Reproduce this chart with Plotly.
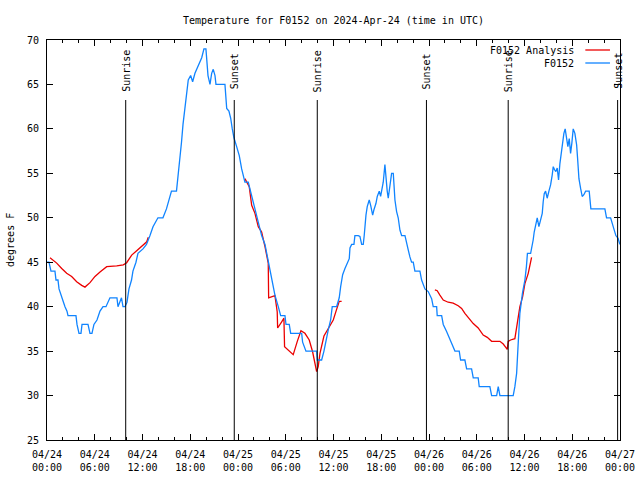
import plotly.graph_objects as go
import pandas as pd

BASE = pd.Timestamp("2024-04-24 00:00")

title_text = "Temperature for F0152 on 2024-Apr-24 (time in UTC)"
y_label = "degrees F"

# F0152 observations: (hours since 04/24 00:00 UTC, temperature F)
obs = [
    (0, 45), (0.25, 45), (0.50, 44), (1.00, 44), (1.13, 43), (1.38, 43), (1.51, 42), (1.82, 41),
    (2.07, 40.5), (2.26, 40), (2.51, 39.5), (2.64, 39), (3.64, 39), (3.77, 38), (4.02, 37), (4.27, 37),
    (4.40, 38), (5.15, 38), (5.40, 37), (5.65, 37), (5.90, 38), (6.28, 38.5), (6.66, 39.5), (7.04, 40),
    (7.41, 40), (7.91, 41), (8.79, 41), (8.92, 40), (9.17, 40.5), (9.36, 41), (9.55, 40), (9.80, 40),
    (10.05, 40.5), (10.30, 42), (10.62, 43), (10.80, 44), (11.18, 45), (11.43, 46), (12.06, 46.5),
    (12.50, 47), (12.94, 48), (13.32, 49), (13.94, 50), (14.57, 50), (15.01, 51), (15.33, 52), (15.64, 53),
    (16.27, 53), (16.46, 54.5), (16.71, 56.5), (16.90, 58.5), (17.09, 60.5), (17.34, 62.5), (17.53, 64),
    (17.75, 65.5), (18.05, 66), (18.30, 65.3), (18.59, 66.25), (18.88, 66.8), (19.13, 67.4), (19.44, 68),
    (19.72, 69), (19.97, 69), (20.23, 66), (20.48, 65), (20.69, 66.25), (20.89, 66.7), (21.11, 66),
    (21.23, 65), (22.36, 65), (22.58, 62.3), (22.86, 62), (23.08, 61.2), (23.28, 60), (23.49, 59),
    (23.83, 58), (24.16, 57), (24.46, 55.5), (24.87, 54), (25.29, 54), (25.72, 52.5), (26.13, 51),
    (26.55, 49.75), (26.97, 48), (27.39, 47), (27.80, 45), (28.23, 43), (28.64, 41.3), (29.06, 40),
    (29.36, 39), (29.90, 39), (30.03, 38), (30.44, 38), (30.62, 37), (32.00, 37), (32.12, 36), (32.54, 35),
    (33.88, 35), (33.96, 34), (34.51, 34), (34.80, 35), (35.05, 36.25), (35.34, 37.4), (35.64, 38.5),
    (35.84, 40), (36.39, 40), (36.72, 41), (36.90, 42.25), (37.15, 43.6), (37.44, 44.3), (37.73, 45),
    (37.98, 45.4), (38.07, 46.6), (38.28, 47), (38.57, 47), (38.69, 48), (39.11, 48), (39.32, 47.9),
    (39.54, 47), (39.74, 47), (39.86, 48), (39.95, 49.4), (40.08, 50.3), (40.24, 51.25), (40.49, 52),
    (40.67, 51.4), (40.92, 50.3), (41.08, 50.9), (41.33, 51.6), (41.50, 52.4), (41.75, 53), (41.92, 52.4),
    (42.05, 53), (42.25, 54), (42.46, 56), (42.59, 54), (42.75, 53), (42.88, 52.2), (43.00, 53),
    (43.18, 54), (43.30, 55), (43.51, 55), (43.72, 52), (43.93, 50.7), (44.13, 50), (44.35, 48.6),
    (44.56, 48), (44.98, 48), (45.19, 47.3), (45.39, 46.4), (45.60, 45.6), (45.81, 45), (46.02, 45),
    (46.23, 44), (46.86, 44), (47.07, 43), (47.49, 42), (47.90, 41.7), (48.33, 40.9), (48.53, 40),
    (48.96, 40), (49.03, 39), (49.59, 39), (49.79, 38), (50.21, 37.2), (50.63, 36.25), (50.97, 35.7),
    (51.26, 35), (51.80, 35), (51.97, 34), (52.51, 34), (52.73, 33), (53.35, 33), (53.56, 32),
    (54.18, 32), (54.31, 31), (55.65, 31), (55.87, 30), (56.50, 30), (56.70, 31), (56.91, 30),
    (58.58, 30), (58.79, 31), (59.01, 32.5), (59.21, 35.9), (59.42, 39.25), (59.74, 41.5), (60.05, 43),
    (60.24, 44.5), (60.37, 46), (60.77, 46), (60.89, 46.45), (61.09, 47.5), (61.22, 48.4), (61.39, 49.3),
    (61.60, 50), (61.81, 49), (62.02, 49.7), (62.23, 50.5), (62.35, 51.8), (62.48, 52.7), (62.65, 53),
    (62.85, 52.2), (63.07, 53), (63.28, 53.7), (63.48, 54.8), (63.61, 55.75), (63.78, 55.4), (63.94, 55.2),
    (64.11, 55.6), (64.28, 54.25), (64.45, 56.1), (64.66, 57.4), (64.79, 58.75), (64.95, 59.5),
    (65.11, 60), (65.29, 58.75), (65.45, 58), (65.62, 58.9), (65.79, 57.25), (65.95, 58.4), (66.12, 60),
    (66.33, 59.5), (66.55, 58.2), (66.67, 56.7), (66.84, 54.4), (67.05, 53.3), (67.25, 52.4),
    (67.46, 52.6), (67.68, 53), (68.13, 53), (68.34, 51), (70.10, 51), (70.31, 50), (70.82, 50),
    (71.07, 49.2), (71.27, 48.8), (71.48, 48), (71.76, 47.7), (71.98, 47),
]

# F0152 Analysis segments
analysis_1 = [
    (0.38, 45.5), (0.67, 45.3), (1.22, 44.9), (1.85, 44.3), (2.47, 43.75), (3.10, 43.4), (3.73, 42.8),
    (4.36, 42.4), (4.77, 42.2), (5.40, 42.7), (6.03, 43.4), (6.66, 43.9), (7.50, 44.5), (8.76, 44.6),
    (9.59, 44.7), (10.01, 44.95), (10.64, 45.8), (11.27, 46.3), (11.90, 46.8), (12.53, 47.3), (12.73, 47.8),
]
analysis_2 = [
    (24.87, 54.4), (25.41, 53.5), (25.72, 51.4), (26.13, 50.5), (26.55, 49), (26.97, 48.4), (27.39, 46.75),
    (27.80, 44.9), (27.85, 41), (28.64, 41.25), (28.93, 39.4), (28.98, 37.6), (29.49, 38.3), (29.77, 38.7),
    (29.85, 35.5), (30.53, 34.9), (30.94, 34.6), (31.45, 36.1), (31.91, 37.3), (32.41, 37), (32.95, 36.25),
    (33.38, 34.9), (33.67, 33.4), (33.88, 32.7), (34.08, 33.25), (34.30, 34.75), (34.80, 36.7),
    (35.34, 37.6), (35.97, 38.5), (36.39, 39.7), (36.72, 40.6), (37.02, 40.6),
]
analysis_3 = [
    (48.74, 41.9), (49.03, 41.8), (49.37, 41.3), (49.79, 40.75), (50.41, 40.5), (51.04, 40.4),
    (51.67, 40.1), (52.10, 39.8), (52.51, 39.25), (52.93, 38.75), (53.56, 38.1), (54.18, 37.6),
    (54.81, 36.8), (55.32, 36.55), (55.87, 36.1), (56.91, 36.1), (57.33, 35.8), (57.67, 35.4),
    (57.83, 35.2), (57.95, 36.1), (58.25, 36.25), (58.79, 36.4), (59.01, 37.75), (59.21, 38.9),
    (59.42, 40), (59.76, 41.1), (60.05, 42.6), (60.47, 43.75), (60.68, 44.7), (60.89, 45.55),
]

sun_hours = [9.89, 23.53, 33.96, 47.68, 57.95, 71.70]
sun_labels = ["Sunrise", "Sunset", "Sunrise", "Sunset", "Sunrise", "Sunset"]

BLUE = "rgb(16,132,255)"
RED = "rgb(235,0,0)"
FONT = "DejaVu Sans Mono"


def t(h):
    return BASE + pd.Timedelta(hours=h)


obs_x = [t(h) for h, _ in obs]
obs_y = [v for _, v in obs]

ana_x, ana_y = [], []
for seg in (analysis_1, analysis_2, analysis_3):
    ana_x += [t(h) for h, _ in seg] + [None]
    ana_y += [v for _, v in seg] + [None]

fig = go.Figure()
fig.add_trace(go.Scatter(x=ana_x, y=ana_y, mode="lines", name="F0152 Analysis",
                         line=dict(color=RED, width=1.3), connectgaps=False))
fig.add_trace(go.Scatter(x=obs_x, y=obs_y, mode="lines", name="F0152",
                         line=dict(color=BLUE, width=1.3)))

shapes = []
annotations = []
for h, lab in zip(sun_hours, sun_labels):
    shapes.append(dict(type="line", xref="x", yref="y", x0=t(h), x1=t(h), y0=25, y1=63.25,
                       line=dict(color="black", width=1)))
    annotations.append(dict(x=t(h), y=66.5, xref="x", yref="y", text=lab, textangle=-90,
                            showarrow=False, xanchor="center", yanchor="middle",
                            font=dict(family=FONT, size=10, color="black")))

# manual gnuplot-style legend (top right)
legend_items = [("F0152 Analysis", RED, 0.975), ("F0152", BLUE, 0.9425)]
for name, col, yy in legend_items:
    annotations.append(dict(x=0.9225, y=yy, xref="paper", yref="paper", text=name, showarrow=False,
                            xanchor="right", yanchor="middle",
                            font=dict(family=FONT, size=10, color="black")))
    shapes.append(dict(type="line", xref="paper", yref="paper", x0=0.9395, x1=0.9825, y0=yy, y1=yy,
                       line=dict(color=col, width=1.3)))

annotations.append(dict(x=-0.0646, y=0.5, xref="paper", yref="paper", text=y_label, textangle=-90,
                        showarrow=False, xanchor="center", yanchor="middle",
                        font=dict(family=FONT, size=10, color="black")))

fig.update_layout(
    width=640, height=480,
    margin=dict(l=47, r=20, t=40, b=40, autoexpand=False),
    paper_bgcolor="white", plot_bgcolor="white",
    showlegend=False,
    font=dict(family=FONT, size=10, color="black"),
    title=dict(text=title_text, x=0.5, xref="paper", y=1 - 20 / 480, yref="container",
               xanchor="center", yanchor="middle", font=dict(family=FONT, size=10, color="black")),
    shapes=shapes,
    annotations=annotations,
)
fig.update_xaxes(
    type="date", range=[t(0), t(72)], automargin=False,
    tickmode="linear", tick0=t(0), dtick=6 * 3600 * 1000,
    tickformat="%m/%d<br>%H:%M",
    ticks="inside", ticklen=6, tickcolor="black",
    minor=dict(dtick=2 * 3600 * 1000, tick0=t(0), ticks="inside", ticklen=3, tickcolor="black"),
    showline=True, linecolor="black", linewidth=1, mirror="ticks",
    showgrid=False, zeroline=False, ticklabelstandoff=5,
    tickfont=dict(family=FONT, size=10, color="black"),
)
fig.update_yaxes(
    range=[25, 70], automargin=False, tickmode="linear", tick0=25, dtick=5,
    ticks="inside", ticklen=6, tickcolor="black",
    showline=True, linecolor="black", linewidth=1, mirror="ticks",
    showgrid=False, zeroline=False, ticklabelstandoff=5,
    tickfont=dict(family=FONT, size=10, color="black"),
)

fig.write_html(
    "out.html",
    config={"displayModeBar": False},
    post_script="document.body.style.margin='0';document.body.style.overflow='hidden';",
)
